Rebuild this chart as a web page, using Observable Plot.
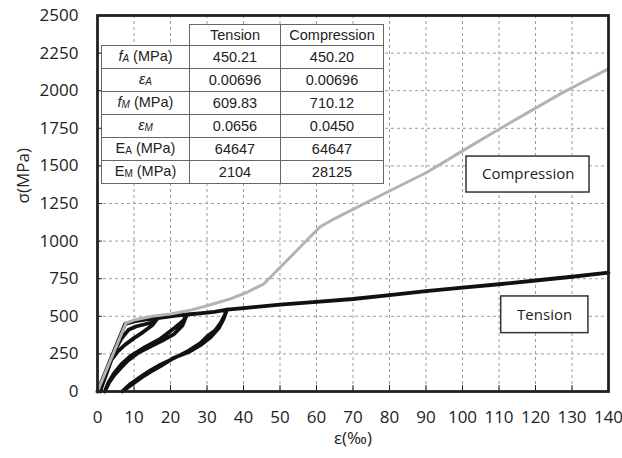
<!DOCTYPE html>
<html><head><meta charset="utf-8">
<script src="https://cdn.jsdelivr.net/npm/d3@7"></script>
<script src="https://cdn.jsdelivr.net/npm/@observablehq/plot@0.6"></script>
<style>
body{margin:0;background:#fff;}
#wrap{position:relative;width:622px;height:458px;}
#tbl{position:absolute;left:101px;top:24px;border-collapse:collapse;table-layout:fixed;width:282px;font-family:"Liberation Sans",Arial,sans-serif;font-size:14.5px;color:#222;}
#tbl td{border:1px solid #666;background:#fff;text-align:center;padding:0;height:22px;line-height:16px;white-space:nowrap;}
#tbl tr.h td{height:20px;}
#tbl td.blank{border-top:none;border-left:none;background:transparent;}
#tbl sub{font-size:10px;vertical-align:-1px;}
</style></head>
<body>
<div id="wrap"></div>
<script>
// ---- data ----
const xTicks = [0,10,20,30,40,50,60,70,80,90,100,110,120,130,140];
const yTicks = [0,250,500,750,1000,1250,1500,1750,2000,2250,2500];

const compEps = [0, 2, 4, 6, 7.8, 10, 15, 20, 25, 30, 36.4, 41, 45.6, 50, 55, 61, 65, 69.3, 74.8, 80, 90.3, 100, 108.6, 118, 126.8, 133, 140];
const compSig = [0, 117, 233, 350, 455, 475, 500, 515, 538, 570, 616, 660, 716, 824, 947, 1095, 1150, 1203, 1270, 1333, 1458, 1600, 1724, 1856, 1979, 2058, 2145];

const tenEps = [0, 7.6, 10, 13, 16.5,
  15.5, 13, 10.5, 8.5, 6.5, 4.5, 2.5, 1, 0.7,
  1.5, 2.5, 3.8, 5.5, 7.5, 10, 12.5, 15, 16.5,
  19, 21.5, 24.5,
  23.5, 21, 17.3, 13, 9, 6.5, 4.5, 3, 2,
  3.2, 4.7, 6.5, 8.3, 11, 13.8, 17.5, 21, 23.3, 24.5,
  28, 32, 35.5,
  34.8, 33.7, 32.2, 30, 28.2, 25, 22.5, 20, 17.5, 14.5, 12, 9, 6.8,
  8.5, 12, 14.5, 17.5, 21, 25, 28.2, 31, 33.2, 34.5, 35.5,
  40, 50, 60, 70, 80, 90, 100, 110, 120, 130, 140];
const tenSig = [0, 450, 466, 478, 488,
  462, 447, 432, 410, 350, 260, 140, 40, 0,
  55, 120, 210, 265, 310, 355, 395, 440, 488,
  497, 505, 512,
  470, 420, 352, 295, 235, 180, 120, 60, 0,
  60, 112, 160, 205, 255, 290, 335, 382, 440, 512,
  520, 530, 545,
  505, 455, 405, 365, 322, 272, 240, 210, 182, 140, 100, 50, 0,
  30, 92, 130, 172, 225, 262, 308, 360, 420, 480, 545,
  555, 577, 596, 615, 641, 668, 690, 713, 738, 763, 790];

const tableHeader = ["Tension", "Compression"];
const rowLabels = [
  "<i>f<sub>A</sub></i> (MPa)",
  "<i>ε<sub>A</sub></i>",
  "<i>f<sub>M</sub></i> (MPa)",
  "<i>ε<sub>M</sub></i>",
  "E<sub>A</sub> (MPa)",
  "E<sub>M</sub> (MPa)"
];
const tensionVals = ["450.21", "0.00696", "609.83", "0.0656", "64647", "2104"];
const compressionVals = ["450.20", "0.00696", "710.12", "0.0450", "64647", "28125"];

// ---- build ----
const compression = compEps.map((e, i) => ({e, s: compSig[i]}));
const tension = tenEps.map((e, i) => ({e, s: tenSig[i]}));

const chart = Plot.plot({
  width: 622, height: 458,
  marginLeft: 97, marginRight: 14, marginTop: 15, marginBottom: 67,
  x: {domain: [0, 140]},
  y: {domain: [0, 2500]},
  style: {fontFamily: "'Open Sans', sans-serif", fontSize: "17px", color: "#222", background: "#fff"},
  marks: [
    Plot.gridX(xTicks, {stroke: "#9c9c9c", strokeOpacity: 1, strokeDasharray: "3,3"}),
    Plot.gridY(yTicks, {stroke: "#9c9c9c", strokeOpacity: 1, strokeDasharray: "3,3"}),
    Plot.tickX(xTicks, {x: d => d, insetTop: 370, stroke: "#222"}),
    Plot.tickY(yTicks, {y: d => d, insetRight: 506, stroke: "#222"}),
    Plot.axisX(xTicks, {tickSize: 0, tickPadding: 19, label: null, fill: "#222", fontSize: 17, tickFormat: d => String(d)}),
    Plot.axisY(yTicks, {tickSize: 0, tickPadding: 19, label: null, fill: "#222", fontSize: 17, tickFormat: d => String(d)}),
    Plot.text(["ε(‰)"], {frameAnchor: "bottom", dy: 52, fontSize: 17, fill: "#222"}),
    Plot.text(["σ(MPa)"], {frameAnchor: "left", dx: -74, rotate: -90, fontSize: 17, fill: "#222"}),
    Plot.line(tension, {x: "e", y: "s", stroke: "#111", strokeWidth: 3.8, strokeLinejoin: "round"}),
    Plot.line(compression, {x: "e", y: "s", stroke: "#b3b3b3", strokeWidth: 3, strokeLinejoin: "round"}),
    Plot.rect([0], {x1: 101.1, x2: 134.8, y1: 1323, y2: 1562, fill: "white", stroke: "#333", strokeWidth: 1.5}),
    Plot.text(["Compression"], {x: 118, y: 1443, fontSize: 15, fill: "#222"}),
    Plot.rect([0], {x1: 110.6, x2: 134.5, y1: 388, y2: 632, fill: "white", stroke: "#333", strokeWidth: 1.5}),
    Plot.text(["Tension"], {x: 122.5, y: 510, fontSize: 15, fill: "#222"}),
    Plot.frame({stroke: "#222", strokeWidth: 2.8})
  ]
});
const wrap = document.getElementById("wrap");
wrap.appendChild(chart);

// table
const tbl = document.createElement("table");
tbl.id = "tbl";
let html = '<colgroup><col style="width:88px"><col style="width:91px"><col style="width:103px"></colgroup>';
html += '<tr class="h"><td class="blank"></td>' + tableHeader.map(h => `<td>${h}</td>`).join("") + '</tr>';
rowLabels.forEach((lab, i) => {
  html += `<tr><td>${lab}</td><td>${tensionVals[i]}</td><td>${compressionVals[i]}</td></tr>`;
});
tbl.innerHTML = html;
wrap.appendChild(tbl);
</script>
</body></html>
